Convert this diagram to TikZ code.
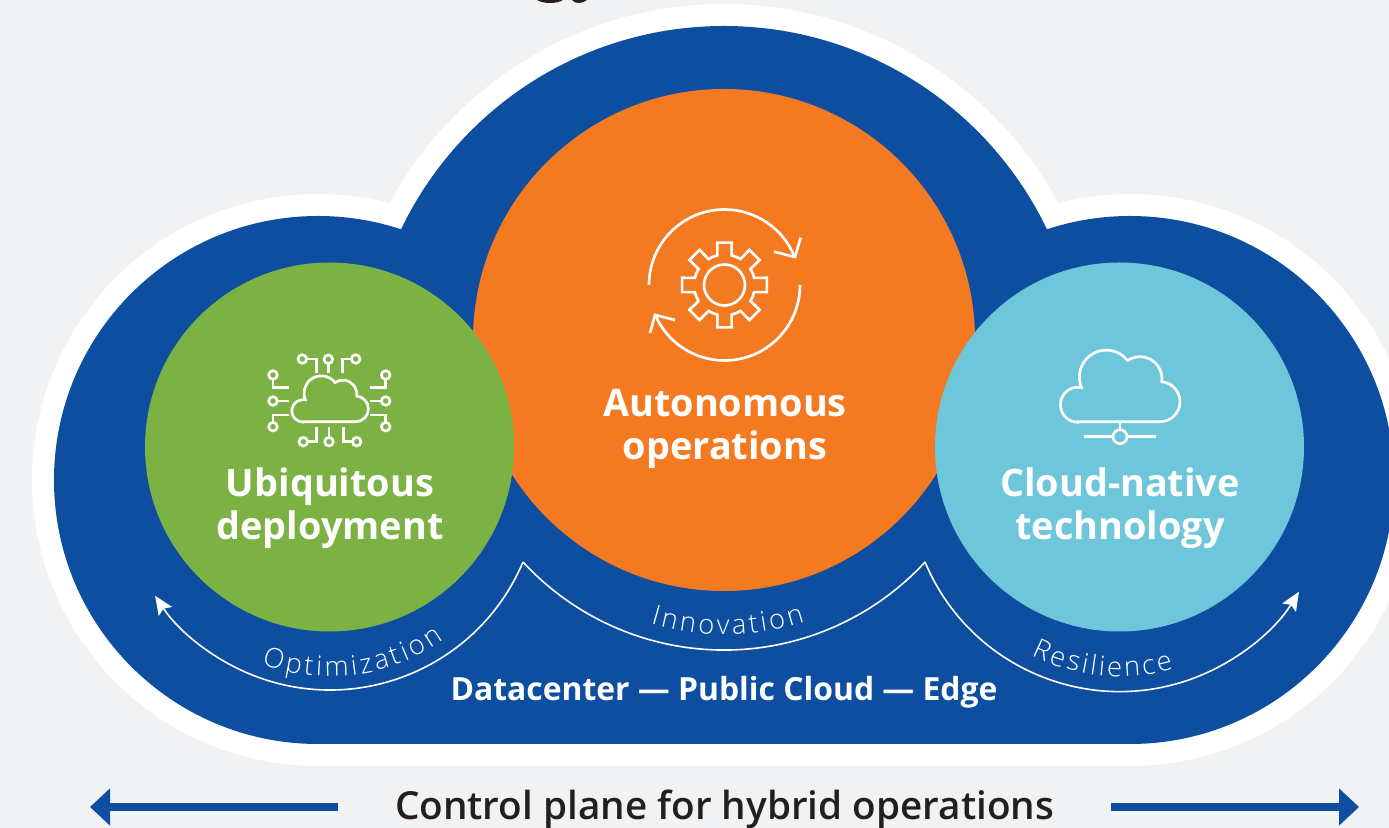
\documentclass[tikz,border=0pt]{standalone}
\usepackage{fontspec}
\setmainfont{Open Sans}
\newfontfamily\lightfont{Open Sans Light}
\newfontfamily\semifont{Open Sans Semibold}
\usepackage{xcolor}
\usetikzlibrary{arrows.meta, decorations.text}
\definecolor{pagegrey}{RGB}{241, 242, 244}
\definecolor{cloudblue}{RGB}{13, 78, 160}
\definecolor{autoorange}{RGB}{244, 122, 34}
\definecolor{ubiqgreen}{RGB}{124, 177, 67}
\definecolor{nativeblue}{RGB}{110, 198, 218}
\definecolor{textdark}{RGB}{35, 31, 32}
\tikzset{
    lobe/.style={circle, inner sep=0pt, outer sep=0pt},
    iconline/.style={white, line width=2pt},
    flowline/.style={white, line width=1.2pt},
    flowtip/.style={-{Stealth[length=14pt, width=12pt, inset=2.5pt]}},
    headline/.style={white, font=\fontsize{28.4}{32.25}\selectfont\bfseries, align=center},
    planearrow/.style={cloudblue, line width=6pt, -{Triangle[length=15pt, width=27pt]}},
    cloudicon/.pic={
        \draw[iconline] (-42,0) -- (40,0) arc[start angle=-90, end angle=85, radius=20]
            arc[start angle=-8, end angle=124, radius=22]
            arc[start angle=38, end angle=203, radius=27]
            arc[start angle=78, end angle=270, radius=17.5] -- cycle;
    }
}
\newcommand{\curvelabel}{\color{white}\lightfont\fontsize{20.5}{22}\selectfont}
\begin{document}
\begin{tikzpicture}[x=0.75pt, y=0.75pt]
    \clip (0,0) rectangle (1389,828);
    \fill[pagegrey] (0,0) rectangle (1389,828);
    % cut-off title above the cloud
    \fill[textdark] (537,828) .. controls (543,824) and (557,824) .. (563,828) -- cycle;
    \fill[textdark] (572,828) .. controls (575,824) and (582,824) .. (587,828) -- cycle;
    % cloud body, white edge first
    \foreach \grow/\shade in {22/white, 0/cloudblue} {
        \fill[\shade] (724,444) circle (358+\grow);
        \fill[\shade] (318,348) circle (264+\grow);
        \fill[\shade] (1130,348) circle (264+\grow);
        \fill[\shade] (318,84-\grow) rectangle (1130,348);
    }
    \node[lobe, fill=autoorange, minimum size=376.5pt] (autonomous) at (724,488) {};
    \node[lobe, fill=ubiqgreen, minimum size=276.75pt] (ubiquitous) at (329.5,381) {};
    \node[lobe, fill=nativeblue, minimum size=276.75pt] (native) at (1119.5,381) {};
    \node[headline] (autonomouslabel) at (725,399) {Autonomous\\operations};
    \node[headline] (ubiquitouslabel) at (330,320) {Ubiquitous\\deployment};
    \node[headline] (nativelabel) at (1120,320) {Cloud-native\\technology};
    \node[white, font=\fontsize{23.9}{26}\selectfont\bfseries] (sites) at (724,136) {Datacenter — Public Cloud — Edge};
    % flow lines under the circles
    \coordinate (cuspleft) at (523,266);
    \coordinate (cuspright) at (925,266);
    \draw[flowline, flowtip] (cuspleft) arc[start angle=-22.9, end angle=-146.6, radius=209.5];
    \draw[flowline] (cuspleft) arc[start angle=-137.3, end angle=-42.7, radius=273.6];
    \draw[flowline, flowtip] (cuspright) arc[start angle=-157.3, end angle=-31.8, radius=211];
    \path[decorate, decoration={text along path, text align=fit to path, text={|\curvelabel|Optimization}}]
        ([shift={(330,347.5)}]-110.5:196) arc[start angle=-110.5, end angle=-54.5, radius=196];
    \path[decorate, decoration={text along path, text align=fit to path, text={|\curvelabel|Innovation}}]
        ([shift={(724,451.6)}]-106.5:258) arc[start angle=-106.5, end angle=-71.7, radius=258];
    \path[decorate, decoration={text along path, text align=fit to path, text={|\curvelabel|Resilience}}]
        ([shift={(1120,347.5)}]-116.8:196) arc[start angle=-116.8, end angle=-74.2, radius=196];
    % gear with the two turning arrows
    \draw[iconline] (724.5,543) circle (20.5);
    \draw[iconline] ([shift={(724.5,543)}]-13.5:30.5) \foreach \a in {0,45,...,315} {
        -- ([shift={(724.5,543)}]\a-13.5:30.5) -- ([shift={(724.5,543)}]\a-9.6:43)
        -- ([shift={(724.5,543)}]\a+9.6:43) -- ([shift={(724.5,543)}]\a+13.5:30.5)
        arc[start angle=\a+13.5, end angle=\a+31.5, radius=30.5]
    } -- cycle;
    \draw[iconline] (649,543) arc[start angle=180, end angle=21.7, radius=75.5];
    \draw[iconline] (774,576.3) -- (795,571) -- (800.7,590.3);
    \draw[iconline] (800,543) arc[start angle=0, end angle=-157, radius=75.5];
    \draw[iconline] (675,508) -- (655,513) -- (650,495);
    % cloud with twelve pins
    \pic[scale=0.64] at (330,406.3) {cloudicon};
    \foreach \px/\py/\qx/\qy/\rx/\ry in {
        302.3/469/316.7/469/316.7/454.7, 328.3/468.7/328.3/462/328.3/455,
        355.7/469/342.3/469/342.3/454.7, 273/453/273/440.7/289/440.7,
        273/427/280/427/289/427, 273/401.3/273/413/289/413,
        385.7/453/385.7/440.7/370/440.7, 385.7/427/378/427/370/427,
        385.7/401.3/385.7/413/370/413, 303.3/386.3/316.7/386.3/316.7/400.7,
        329/386.3/329/393/329/400.7, 356.7/386.3/343.3/386.3/343.3/400.7} {
        \draw[iconline] (\px,\py) -- (\qx,\qy) -- (\rx,\ry);
        \draw[iconline, fill=ubiqgreen] (\px,\py) circle (4.3);
    }
    % cloud on its network line
    \pic at (1120,406.3) {cloudicon};
    \draw[iconline] (1120,406.3) -- (1120,398);
    \draw[iconline] (1084,391.3) -- (1112.5,391.3);
    \draw[iconline] (1127.5,391.3) -- (1156,391.3);
    \draw[iconline] (1120,391.3) circle (7);
    % control plane band
    \node[textdark, font=\fontsize{29}{32}\semifont] (plane) at (724.5,19) {Control plane for hybrid operations};
    \coordinate (planeleft) at (90,21);
    \coordinate (planeright) at (1359,21);
    \coordinate (planestartleft) at (338,21);
    \coordinate (planestartright) at (1111,21);
    \draw[planearrow] (planestartleft) -- (planeleft);
    \draw[planearrow] (planestartright) -- (planeright);
\end{tikzpicture}
\end{document}
